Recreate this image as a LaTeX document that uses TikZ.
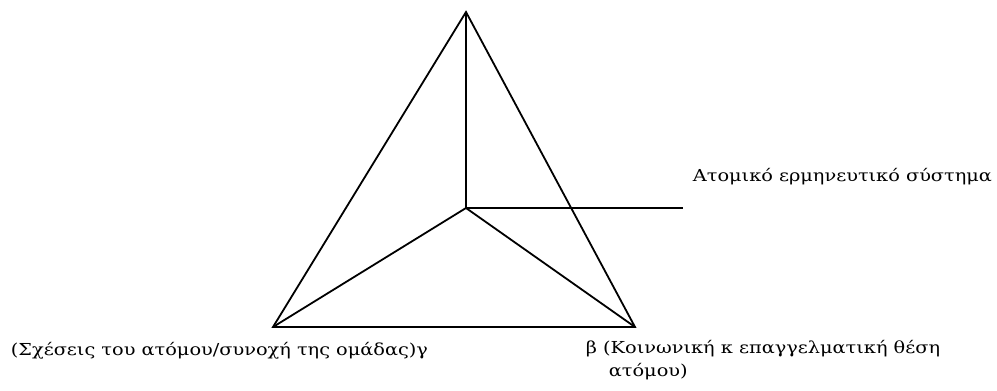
\documentclass[tikz,border=0pt]{standalone}
\usepackage{fontspec}
\setmainfont{DejaVu Serif}[FakeStretch=1.17]
\usetikzlibrary{positioning}

\begin{document}
\begin{tikzpicture}[x=1pt, y=-1pt, line width=1.8pt,
    lbl/.style={inner sep=0pt, anchor=base west, font=\fontsize{16.5}{20}\selectfont}]
    \useasboundingbox (0,0) rectangle (997,391);
    \coordinate (apex) at (466,12);
    \coordinate (left) at (273,327);
    \coordinate (right) at (635,327);
    \coordinate (centre) at (466,208);
    \coordinate (tail) at (683,208);
    \draw (apex) -- (left) -- (right) -- cycle;
    \draw (centre) -- (apex);
    \draw (centre) -- (left);
    \draw (centre) -- (right);
    \draw (centre) -- (tail);
    \node[lbl] (system) at (692,181) {Ατομικό ερμηνευτικό σύστημα};
    \node[lbl] (gamma) at (10,355) {(Σχέσεις του ατόμου/συνοχή της ομάδας)γ};
    \node[lbl] (beta) at (585,353) {β (Κοινωνική κ επαγγελματική θέση};
    \node[lbl] (beta2) at (608,376) {ατόμου)};
\end{tikzpicture}
\end{document}
